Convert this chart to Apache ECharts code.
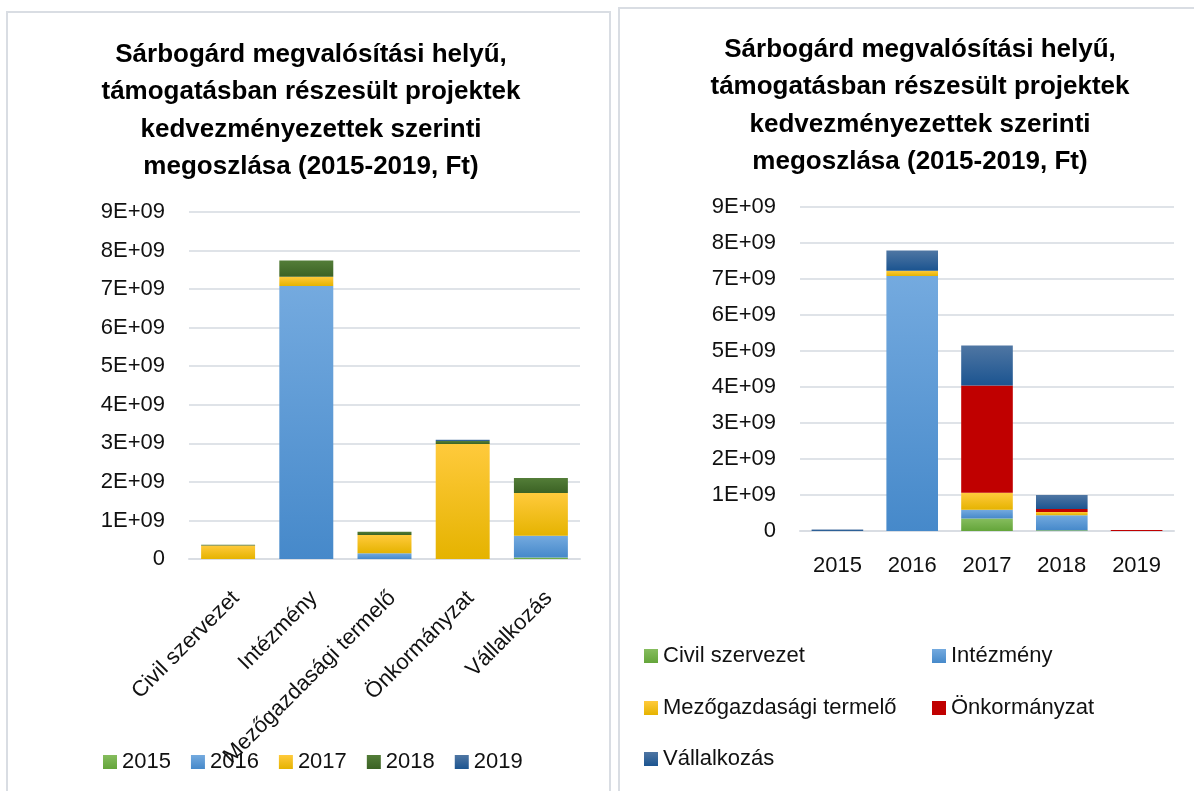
<!DOCTYPE html>
<html>
<head>
<meta charset="utf-8">
<script src="https://cdn.jsdelivr.net/npm/echarts@6/dist/echarts.min.js"></script>
<style>
  html, body { margin: 0; padding: 0; background: #fff; }
  #chart { width: 1194px; height: 791px; }
</style>
</head>
<body>
<div id="chart"></div>
<script>
// years and beneficiary types
const years = ['2015', '2016', '2017', '2018', '2019'];
const types = ['Civil szervezet', 'Intézmény', 'Mezőgazdasági termelő', 'Önkormányzat', 'Vállalkozás'];

// Ft per year, one array per beneficiary type
const civil = [0, 0, 3.5e8, 2e7, 0];
const intezmeny = [0, 7.08e9, 2.4e8, 4.2e8, 0];
const mezogazd = [0, 1.5e8, 4.7e8, 9e7, 0];
const onkorm = [0, 0, 2.98e9, 8e7, 3e7];
const vallalk = [4e7, 5.6e8, 1.11e9, 3.9e8, 0];

const yTicks = ['0', '1E+09', '2E+09', '3E+09', '4E+09', '5E+09', '6E+09', '7E+09', '8E+09', '9E+09'];

const titleText = 'Sárbogárd megvalósítási helyű,\ntámogatásban részesült projektek\nkedvezményezettek szerinti\nmegoszlása (2015-2019, Ft)';

const FONT = "'Liberation Sans', Arial, sans-serif";

function grad(top, bottom) {
  return new echarts.graphic.LinearGradient(0, 0, 0, 1, [
    { offset: 0, color: top },
    { offset: 1, color: bottom }
  ]);
}

const green = grad('#86bd5e', '#64a53a');
const blue = grad('#74aadf', '#4689ca');
const yellow = grad('#ffca3c', '#e5b300');
const dkgreen = grad('#537d38', '#3b6224');
const dkblue = grad('#4f76a3', '#1b5490');
const red = '#c00000';

const byType = [civil, intezmeny, mezogazd, onkorm, vallalk];
const yearColors = [green, blue, yellow, dkgreen, dkblue];
const typeColors = [green, blue, yellow, red, dkblue];

var chart = echarts.init(document.getElementById('chart'));

function yAxisFor(gridIndex) {
  return {
    type: 'value',
    gridIndex: gridIndex,
    min: 0,
    max: 9e9,
    interval: 1e9,
    axisLine: { show: false },
    axisTick: { show: false },
    splitLine: { lineStyle: { color: '#dfe3e8', width: 2 } },
    axisLabel: {
      margin: 24,
      fontFamily: FONT,
      fontSize: 22,
      color: '#111',
      formatter: function (v) { return yTicks[Math.round(v / 1e9)]; }
    }
  };
}

var series = [];
// left: stacked by year over beneficiary types
for (var y = 0; y < years.length; y++) {
  series.push({
    name: years[y],
    type: 'bar',
    stack: 'left',
    xAxisIndex: 0,
    yAxisIndex: 0,
    barCategoryGap: '31%',
    itemStyle: { color: yearColors[y] },
    data: byType.map(function (arr) { return arr[y]; })
  });
}
// right: stacked by beneficiary type over years
for (var t = 0; t < types.length; t++) {
  series.push({
    name: types[t],
    type: 'bar',
    stack: 'right',
    xAxisIndex: 1,
    yAxisIndex: 1,
    barCategoryGap: '31%',
    itemStyle: { color: typeColors[t] },
    data: byType[t]
  });
}

var legendText = { fontFamily: FONT, fontSize: 22, color: '#111' };
var rightLegendPos = [
  [639, 640], [927, 640],
  [639, 692], [927, 692],
  [639, 743]
];
var legends = [{
  data: years,
  icon: 'rect',
  left: 98,
  top: 746,
  itemWidth: 14,
  itemHeight: 14,
  itemGap: 20,
  textStyle: legendText
}];
types.forEach(function (name, i) {
  legends.push({
    data: [name],
    icon: 'rect',
    left: rightLegendPos[i][0],
    top: rightLegendPos[i][1],
    itemWidth: 14,
    itemHeight: 14,
    textStyle: legendText
  });
});

var titleStyle = { fontFamily: FONT, fontSize: 26, fontWeight: 'bold', lineHeight: 37.5, color: '#000' };

var option = {
  animation: false,
  title: [{
    text: titleText,
    left: 306,
    top: 31,
    textAlign: 'center',
    textStyle: titleStyle
  }, {
    text: titleText,
    left: 915,
    top: 26,
    textAlign: 'center',
    textStyle: titleStyle
  }],
  legend: legends,
  grid: [
    { left: 189, right: 614, top: 212, bottom: 232 },
    { left: 800, right: 20, top: 207, bottom: 260 }
  ],
  xAxis: [{
    type: 'category',
    gridIndex: 0,
    data: types,
    axisLine: { lineStyle: { color: '#d9dde3', width: 2 } },
    axisTick: { show: false },
    axisLabel: { rotate: 45, margin: 28, interval: 0, verticalAlign: 'top', fontFamily: FONT, fontSize: 22, color: '#111' }
  }, {
    type: 'category',
    gridIndex: 1,
    data: years,
    axisLine: { lineStyle: { color: '#d9dde3', width: 2 } },
    axisTick: { show: false },
    axisLabel: { margin: 24, fontFamily: FONT, fontSize: 22, color: '#111' }
  }],
  yAxis: [yAxisFor(0), yAxisFor(1)],
  series: series,
  graphic: [{
    type: 'rect',
    shape: { x: 7, y: 12, width: 603, height: 800 },
    style: { fill: 'none', stroke: '#d9dde3', lineWidth: 2 },
    z: -1
  }, {
    type: 'rect',
    shape: { x: 619, y: 8, width: 600, height: 800 },
    style: { fill: 'none', stroke: '#d9dde3', lineWidth: 2 },
    z: -1
  }]
};
chart.setOption(option);
</script>
</body>
</html>
